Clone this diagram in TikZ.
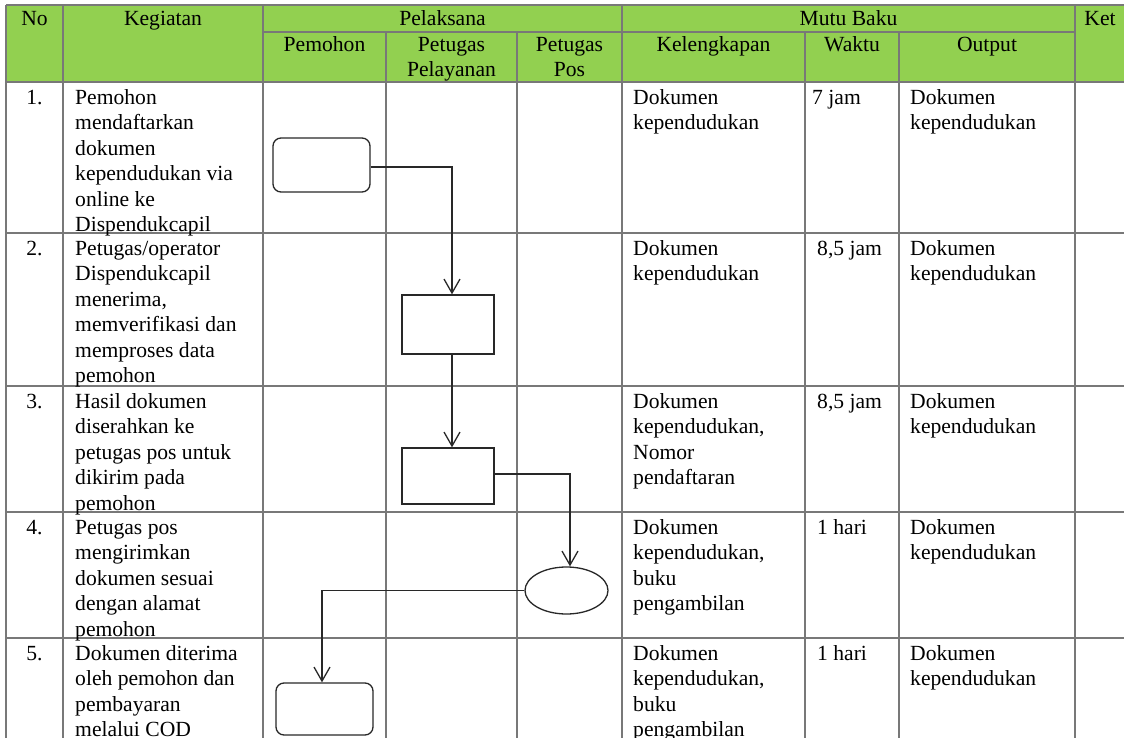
\documentclass[tikz,border=0pt]{standalone}
\usepackage{fontspec}
\setmainfont{Liberation Serif}
\usetikzlibrary{arrows.meta,shapes.geometric}
\definecolor{hdrgreen}{RGB}{146,208,80}
\definecolor{gridgray}{RGB}{120,120,120}
\definecolor{shapeink}{RGB}{40,40,40}
\tikzset{
  cell/.style={anchor=north west, inner sep=0pt, align=left, font=\fontsize{21.6}{25.5}\selectfont},
  hdr/.style={anchor=north, inner sep=0pt, align=center, font=\fontsize{21.6}{25.5}\selectfont},
  grid/.style={draw=gridgray, line width=1.5pt},
  flowbox/.style={draw=shapeink, line width=1.3pt, fill=white, inner sep=0pt},
  roundbox/.style={flowbox, rounded corners=8pt},
  flowarrow/.style={draw=shapeink, line width=1.3pt, -{Straight Barb[length=14pt,width=16pt,line width=1.3pt]}},
  flowline/.style={draw=shapeink, line width=1.3pt}
}
% rows: first baseline minus 0.7*25.5
\begin{document}
\begin{tikzpicture}[x=1pt,y=-1pt]
\useasboundingbox (0,0) rectangle (1124,738);
\clip (0,0) rectangle (1124,738);
\fill[white] (0,0) rectangle (1124,738);
% header fill
\fill[hdrgreen] (6,5) rectangle (1130,82);
% grid: horizontal
\draw[grid] (6,5) -- (1130,5);
\draw[grid] (263,32) -- (1075,32);
\foreach \y in {82,233,386,512,638} {\draw[grid] (6,\y) -- (1130,\y);}
% grid: vertical
\foreach \x in {6,63,263,622,1075} {\draw[grid] (\x,5) -- (\x,745);}
\foreach \x in {386,517,805,899} {\draw[grid] (\x,32) -- (\x,745);}
% header texts (baseline 25 / 51)
\node[hdr] (hNo) at (34.5,7.15) {\strut No};
\node[hdr] (hKeg) at (163,7.15) {\strut Kegiatan};
\node[hdr] (hPel) at (442.5,7.15) {\strut Pelaksana};
\node[hdr] (hMutu) at (848.5,7.15) {\strut Mutu Baku};
\node[hdr] (hKet) at (1100,7.15) {\strut Ket};
\node[hdr] (hPem) at (324.5,33.15) {\strut Pemohon};
\node[hdr] (hPP) at (451.5,33.15) {\strut Petugas\\Pelayanan};
\node[hdr] (hPos) at (569.5,33.15) {\strut Petugas\\Pos};
\node[hdr] (hKel) at (713.5,33.15) {\strut Kelengkapan};
\node[hdr] (hWak) at (852,33.15) {\strut Waktu};
\node[hdr] (hOut) at (987,33.15) {\strut Output};
% row 1 (baseline 104)
\node[hdr] (n1) at (34.5,86.15) {\strut 1.};
\node[cell] (k1) at (75,86.15) {\strut Pemohon\\mendaftarkan\\dokumen\\kependudukan via\\online ke\\Dispendukcapil};
\node[cell] (l1) at (633,86.15) {\strut Dokumen\\kependudukan};
\node[cell] (w1) at (812,86.15) {\strut 7 jam};
\node[cell] (o1) at (910,86.15) {\strut Dokumen\\kependudukan};
% row 2 (baseline 255)
\node[hdr] (n2) at (34.5,237.15) {\strut 2.};
\node[cell] (k2) at (75,237.15) {\strut Petugas/operator\\Dispendukcapil\\menerima,\\memverifikasi dan\\memproses data\\pemohon};
\node[cell] (l2) at (633,237.15) {\strut Dokumen\\kependudukan};
\node[cell] (w2) at (817,237.15) {\strut 8,5 jam};
\node[cell] (o2) at (910,237.15) {\strut Dokumen\\kependudukan};
% row 3 (baseline 408)
\node[hdr] (n3) at (34.5,390.15) {\strut 3.};
\node[cell] (k3) at (75,390.15) {\strut Hasil dokumen\\diserahkan ke\\petugas pos untuk\\dikirim pada\\pemohon};
\node[cell] (l3) at (633,390.15) {\strut Dokumen\\kependudukan,\\Nomor\\pendaftaran};
\node[cell] (w3) at (817,390.15) {\strut 8,5 jam};
\node[cell] (o3) at (910,390.15) {\strut Dokumen\\kependudukan};
% row 4 (baseline 534)
\node[hdr] (n4) at (34.5,516.15) {\strut 4.};
\node[cell] (k4) at (75,516.15) {\strut Petugas pos\\mengirimkan\\dokumen sesuai\\dengan alamat\\pemohon};
\node[cell] (l4) at (633,516.15) {\strut Dokumen\\kependudukan,\\buku\\pengambilan};
\node[cell] (w4) at (817,516.15) {\strut 1 hari};
\node[cell] (o4) at (910,516.15) {\strut Dokumen\\kependudukan};
% row 5 (baseline 660)
\node[hdr] (n5) at (34.5,642.15) {\strut 5.};
\node[cell] (k5) at (75,642.15) {\strut Dokumen diterima\\oleh pemohon dan\\pembayaran\\melalui COD};
\node[cell] (l5) at (633,642.15) {\strut Dokumen\\kependudukan,\\buku\\pengambilan};
\node[cell] (w5) at (817,642.15) {\strut 1 hari};
\node[cell] (o5) at (910,642.15) {\strut Dokumen\\kependudukan};
% flow shapes
\node[roundbox, minimum width=97pt, minimum height=54pt] (s1) at (321.5,165) {};
\node[flowbox, minimum width=92pt, minimum height=59pt] (s2) at (448,324.5) {};
\node[flowbox, minimum width=92pt, minimum height=56pt] (s3) at (448,476) {};
\node[flowbox, ellipse, minimum width=83pt, minimum height=47pt] (s4) at (566.5,590.5) {};
\node[roundbox, minimum width=97pt, minimum height=52pt] (s5) at (324.5,709) {};
% connectors
\draw[flowarrow] ([yshift=-2pt]s1.east) -| ([xshift=4pt]s2.north);
\draw[flowarrow] ([xshift=4pt]s2.south) -- ([xshift=4pt]s3.north);
\draw[flowarrow] ([yshift=2pt]s3.east) -| ([xshift=3.5pt]s4.north);
\draw[flowarrow] (s4.west) -| ([xshift=-2.5pt]s5.north);
\end{tikzpicture}
\end{document}
